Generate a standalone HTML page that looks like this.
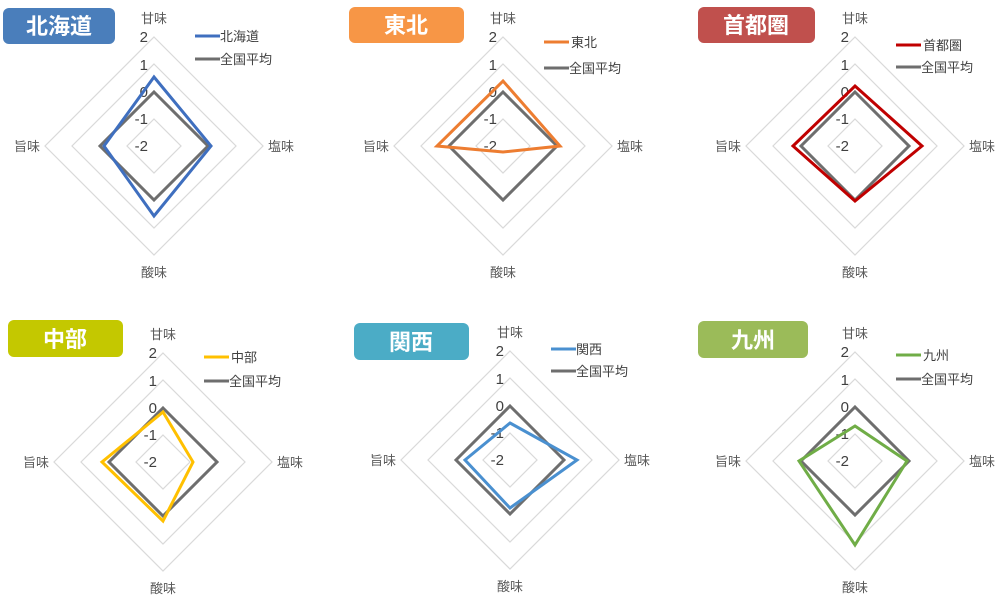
<!DOCTYPE html>
<html><head><meta charset="utf-8"><style>
html,body{margin:0;padding:0;background:#fff;width:1000px;height:607px;overflow:hidden}
text{font-family:"Liberation Sans","Noto Sans CJK JP",sans-serif}
.ax{font-size:13px;fill:#595959}
.sc{font-size:15px;fill:#404040}
.lg{font-size:13px;fill:#404040}
.tt{font-size:22px;font-weight:bold;fill:#fff}
</style></head><body>
<svg width="1000" height="607" viewBox="0 0 1000 607" xmlns="http://www.w3.org/2000/svg">
<defs>
<g id="grid">
<polygon points="0,-27 27,0 0,27 -27,0" fill="none" stroke="#d9d9d9" stroke-width="1.2"/>
<polygon points="0,-54 54,0 0,54 -54,0" fill="none" stroke="#d9d9d9" stroke-width="1.2"/>
<polygon points="0,-82 82,0 0,82 -82,0" fill="none" stroke="#d9d9d9" stroke-width="1.2"/>
<polygon points="0,-109 109,0 0,109 -109,0" fill="none" stroke="#d9d9d9" stroke-width="1.2"/>
<text class="ax" x="0" y="-123" text-anchor="middle">甘味</text>
<text class="ax" x="114" y="5">塩味</text>
<text class="ax" x="-114" y="5" text-anchor="end">旨味</text>
<text class="ax" x="0" y="131" text-anchor="middle">酸味</text>
<text class="sc" x="-6" y="-104" text-anchor="end">2</text>
<text class="sc" x="-6" y="-76" text-anchor="end">1</text>
<text class="sc" x="-6" y="-49" text-anchor="end">0</text>
<text class="sc" x="-6" y="-22" text-anchor="end">-1</text>
<text class="sc" x="-6" y="5" text-anchor="end">-2</text>
<polygon points="0,-54 54,0 0,54 -54,0" fill="none" stroke="#6e6e6e" stroke-width="3"/>
</g>
</defs>

<g transform="translate(154,146)">
<use href="#grid"/>
<polygon points="0,-69 57,0 0,70 -50,0" fill="none" stroke="#3f6fbf" stroke-width="3"/>
<line x1="41" y1="-110" x2="66" y2="-110" stroke="#3f6fbf" stroke-width="3"/>
<text class="lg" x="66" y="-105">北海道</text>
<line x1="41" y1="-87" x2="66" y2="-87" stroke="#6e6e6e" stroke-width="3"/>
<text class="lg" x="66" y="-82">全国平均</text>
</g>
<rect x="3" y="8" width="112" height="36" rx="6" fill="#4a7ebb"/>
<text class="tt" x="59" y="34" text-anchor="middle">北海道</text>

<g transform="translate(503,146)">
<use href="#grid"/>
<polygon points="0,-65 57,0 0,6 -66,0" fill="none" stroke="#ed7d31" stroke-width="3"/>
<line x1="41" y1="-104" x2="66" y2="-104" stroke="#ed7d31" stroke-width="3"/>
<text class="lg" x="68" y="-99">東北</text>
<line x1="41" y1="-78" x2="66" y2="-78" stroke="#6e6e6e" stroke-width="3"/>
<text class="lg" x="66" y="-73">全国平均</text>
</g>
<rect x="349" y="7" width="115" height="36" rx="6" fill="#f79646"/>
<text class="tt" x="406" y="33" text-anchor="middle">東北</text>

<g transform="translate(855,146)">
<use href="#grid"/>
<polygon points="0,-60 67,0 0,55 -62,0" fill="none" stroke="#c00000" stroke-width="3"/>
<line x1="41" y1="-101" x2="66" y2="-101" stroke="#c00000" stroke-width="3"/>
<text class="lg" x="68" y="-96">首都圏</text>
<line x1="41" y1="-79" x2="66" y2="-79" stroke="#6e6e6e" stroke-width="3"/>
<text class="lg" x="66" y="-74">全国平均</text>
</g>
<rect x="698" y="7" width="117" height="36" rx="6" fill="#c0504d"/>
<text class="tt" x="756" y="33" text-anchor="middle">首都圏</text>

<g transform="translate(163,462)">
<use href="#grid"/>
<polygon points="0,-50 30,0 0,59 -61,0" fill="none" stroke="#ffc000" stroke-width="3"/>
<line x1="41" y1="-105" x2="66" y2="-105" stroke="#ffc000" stroke-width="3"/>
<text class="lg" x="68" y="-100">中部</text>
<line x1="41" y1="-81" x2="66" y2="-81" stroke="#6e6e6e" stroke-width="3"/>
<text class="lg" x="66" y="-76">全国平均</text>
</g>
<rect x="8" y="320" width="115" height="37" rx="6" fill="#c4c800"/>
<text class="tt" x="65" y="347" text-anchor="middle">中部</text>

<g transform="translate(510,460)">
<use href="#grid"/>
<polygon points="0,-37 67,0 0,48 -45,0" fill="none" stroke="#4a90d0" stroke-width="3"/>
<line x1="41" y1="-111" x2="66" y2="-111" stroke="#4a90d0" stroke-width="3"/>
<text class="lg" x="66" y="-106">関西</text>
<line x1="41" y1="-89" x2="66" y2="-89" stroke="#6e6e6e" stroke-width="3"/>
<text class="lg" x="66" y="-84">全国平均</text>
</g>
<rect x="354" y="323" width="115" height="37" rx="6" fill="#4bacc6"/>
<text class="tt" x="411" y="350" text-anchor="middle">関西</text>

<g transform="translate(855,461)">
<use href="#grid"/>
<polygon points="0,-35 52,0 0,84 -56,0" fill="none" stroke="#70ad47" stroke-width="3"/>
<line x1="41" y1="-106" x2="66" y2="-106" stroke="#70ad47" stroke-width="3"/>
<text class="lg" x="68" y="-101">九州</text>
<line x1="41" y1="-82" x2="66" y2="-82" stroke="#6e6e6e" stroke-width="3"/>
<text class="lg" x="66" y="-77">全国平均</text>
</g>
<rect x="698" y="321" width="110" height="37" rx="6" fill="#9bbb59"/>
<text class="tt" x="753" y="348" text-anchor="middle">九州</text>
</svg>
</body></html>
